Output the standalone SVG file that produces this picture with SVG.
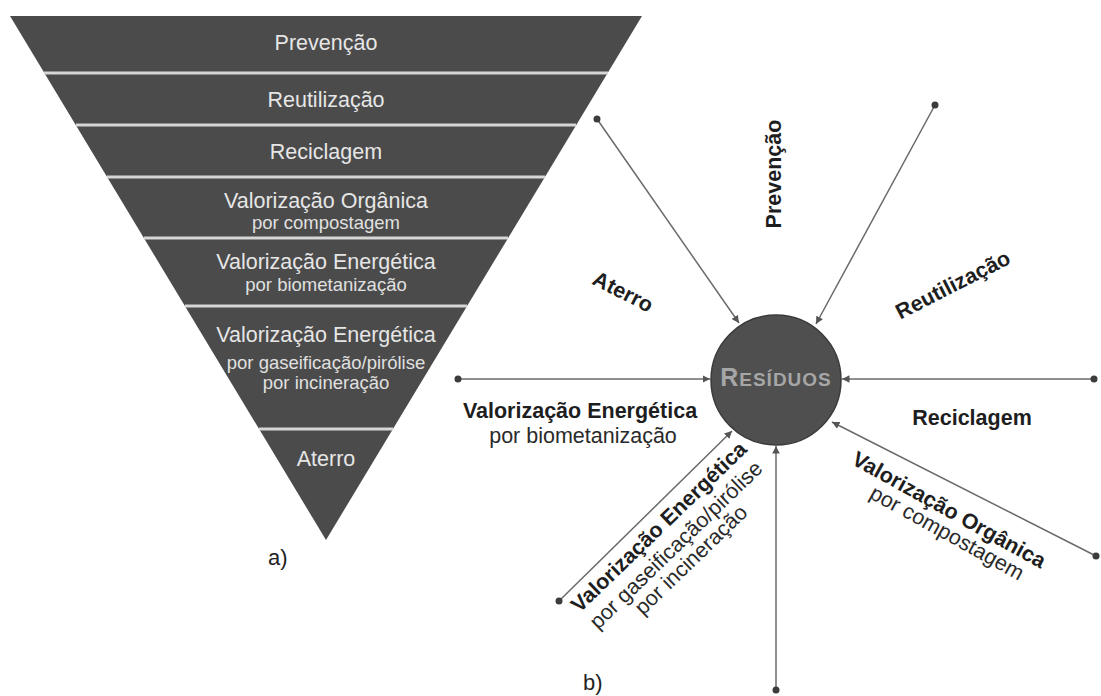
<svg xmlns="http://www.w3.org/2000/svg" width="1101" height="696" viewBox="0 0 1101 696">
<style>
.tri{fill:#4b4b4b}
.sep{stroke:#d6d6d6;stroke-width:3}
.tl{font-family:"Liberation Sans",Arial,sans-serif;font-size:21.5px;fill:#e6e6e6;text-anchor:middle}
.ts{font-family:"Liberation Sans",Arial,sans-serif;font-size:18.5px;fill:#e0e0e0;text-anchor:middle}
.bl{font-family:"Liberation Sans",Arial,sans-serif;font-size:21.5px;font-weight:bold;fill:#1e1e1e;text-anchor:middle}
.rl{font-family:"Liberation Sans",Arial,sans-serif;font-size:21.5px;fill:#2a2a2a;text-anchor:middle}
.cap{font-family:"Liberation Sans",Arial,sans-serif;font-size:22px;fill:#222}
.con{stroke:#6a6a6a;stroke-width:1.5;fill:none;marker-end:url(#ah)}
.dot{fill:#3c3c3c}
</style>
<defs>
<marker id="ah" viewBox="0 0 10 10" refX="10" refY="5" markerWidth="5" markerHeight="5" markerUnits="strokeWidth" orient="auto">
<path d="M0,0 L10,5 L0,10 z" fill="#555"/>
</marker>
</defs>
<rect width="1101" height="696" fill="#ffffff"/>

<g id="piramide">
<polygon class="tri" points="10,16 642,16 326,540"/>
<line class="sep" x1="44" y1="73" x2="608" y2="73"/>
<line class="sep" x1="76" y1="125" x2="576" y2="125"/>
<line class="sep" x1="107" y1="177" x2="545" y2="177"/>
<line class="sep" x1="144" y1="238" x2="508" y2="238"/>
<line class="sep" x1="185" y1="306" x2="467" y2="306"/>
<line class="sep" x1="259" y1="429" x2="393" y2="429"/>
</g>
<g id="n-prevencao-a"><text class="tl" x="326" y="50">Prevenção</text></g>
<g id="n-reutilizacao-a"><text class="tl" x="326" y="107">Reutilização</text></g>
<g id="n-reciclagem-a"><text class="tl" x="326" y="159">Reciclagem</text></g>
<g id="n-organica-a"><text class="tl" x="326" y="208">Valorização Orgânica</text><text class="ts" x="326" y="229">por compostagem</text></g>
<g id="n-biomet-a"><text class="tl" x="326" y="269">Valorização Energética</text><text class="ts" x="326" y="291">por biometanização</text></g>
<g id="n-gas-a"><text class="tl" x="326" y="342">Valorização Energética</text><text class="ts" x="326" y="369">por gaseificação/pirólise</text><text class="ts" x="326" y="389">por incineração</text></g>
<g id="n-aterro-a"><text class="tl" x="326" y="466">Aterro</text></g>
<g id="cap-a"><text class="cap" x="268" y="565">a)</text></g>

<g id="connectors">
<line class="con" x1="597" y1="119" x2="739" y2="323"/>
<line class="con" x1="935" y1="105" x2="816" y2="324"/>
<line class="con" x1="458" y1="379" x2="710" y2="379"/>
<line class="con" x1="1094" y1="379" x2="842" y2="379"/>
<line class="con" x1="1096" y1="556" x2="832" y2="422"/>
<line class="con" x1="776" y1="690" x2="776" y2="446"/>
<line class="con" x1="559" y1="601" x2="732" y2="431"/>
<circle class="dot" cx="597" cy="119" r="3.5"/>
<circle class="dot" cx="935" cy="105" r="3.5"/>
<circle class="dot" cx="458" cy="379" r="3.5"/>
<circle class="dot" cx="1094" cy="379" r="3.5"/>
<circle class="dot" cx="1096" cy="556" r="3.5"/>
<circle class="dot" cx="776" cy="690" r="3.5"/>
<circle class="dot" cx="559" cy="601" r="3.5"/>
</g>

<g id="n-residuos">
<circle cx="776" cy="380" r="65" fill="#4f4f4f" stroke="#3a3a3a" stroke-width="1.5"/>
<text x="776" y="386" text-anchor="middle" font-family="'Liberation Sans',Arial,sans-serif" font-weight="bold" fill="#a6a6a6" letter-spacing="1"><tspan font-size="25">R</tspan><tspan font-size="19">ESÍDUOS</tspan></text>
</g>
<g id="n-prevencao-b"><text class="bl" transform="translate(774,174) rotate(-90)" y="7">Prevenção</text></g>
<g id="n-aterro-b"><text class="bl" transform="translate(623,292) rotate(27)" y="7">Aterro</text></g>
<g id="n-reutilizacao-b"><text class="bl" transform="translate(953,285) rotate(-27)" y="7">Reutilização</text></g>
<g id="n-biomet-b"><text class="bl" x="580" y="418">Valorização Energética</text><text class="rl" x="583" y="443">por biometanização</text></g>
<g id="n-reciclagem-b"><text class="bl" x="972" y="425">Reciclagem</text></g>
<g id="n-organica-b"><text class="bl" transform="translate(949,510) rotate(29)" y="7">Valorização Orgânica</text><text class="rl" transform="translate(947,533) rotate(29)" y="7">por compostagem</text></g>
<g id="n-gas-b"><text class="bl" transform="translate(659,527) rotate(-44)" y="7">Valorização Energética</text><text class="rl" transform="translate(676,545) rotate(-44)" y="7">por gaseificação/pirólise</text><text class="rl" transform="translate(691,560) rotate(-44)" y="7">por incineração</text></g>
<g id="cap-b"><text class="cap" x="583" y="690">b)</text></g>
</svg>
